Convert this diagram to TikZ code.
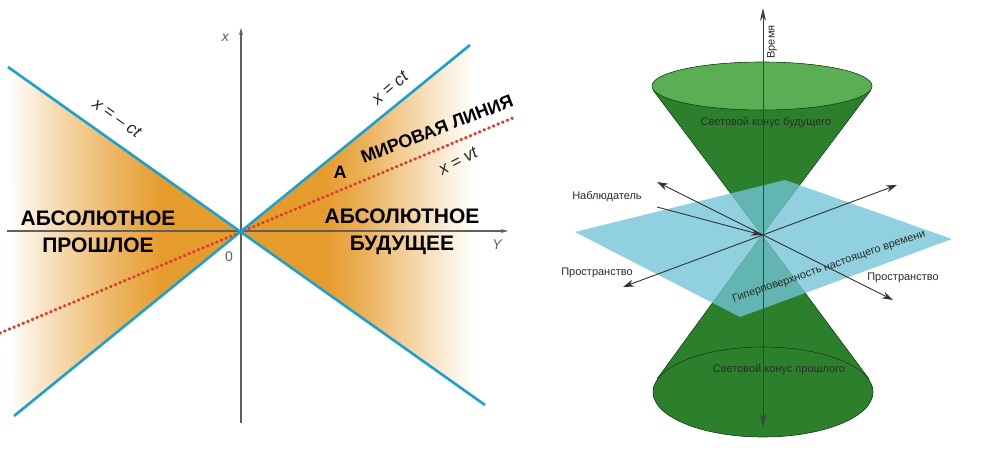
\documentclass[tikz,border=0pt]{standalone}
\usepackage{fontspec}
\setmainfont{Liberation Sans}
\usetikzlibrary{arrows.meta, positioning}
\definecolor{axisgray}{RGB}{95,95,95}
\definecolor{coneblue}{RGB}{28,160,210}
\definecolor{worldred}{RGB}{215,65,45}
\definecolor{orng}{RGB}{230,156,44}
\definecolor{darkgreen}{RGB}{44,128,44}
\definecolor{midgreen}{RGB}{78,165,70}
\definecolor{lightgreen}{RGB}{145,210,135}
\definecolor{rimgreen}{RGB}{25,75,25}
\definecolor{planeblue}{RGB}{115,196,215}
\definecolor{labgray}{RGB}{40,45,40}
\pgfdeclarehorizontalshading{pastfade}{100bp}{color(0bp)=(white); color(25bp)=(white); color(29bp)=(orng!15); color(38bp)=(orng!45); color(50bp)=(orng!80); color(58bp)=(orng); color(100bp)=(orng)}
\pgfdeclarehorizontalshading{futfade}{100bp}{color(0bp)=(orng); color(42bp)=(orng); color(50bp)=(orng!80); color(58bp)=(orng!50); color(68bp)=(orng!15); color(73bp)=(white); color(100bp)=(white)}

\begin{document}
\begin{tikzpicture}[x=1pt,y=-1pt,>={Stealth[length=11pt,width=7pt]},
    axis/.style={draw=axisgray,line width=1.1pt,-{Stealth[length=7pt,width=4pt]}},
    light/.style={draw=coneblue,line width=2.6pt},
    world/.style={draw=worldred,line width=3.4pt,line cap=round,dash pattern=on 0.4pt off 4.6pt},
    region/.style={font=\fontsize{21}{27}\selectfont\bfseries,align=center},
    eqn/.style={font=\fontsize{17}{17}\selectfont\itshape,text=black!85},
    axlab/.style={font=\fontsize{14}{14}\selectfont\itshape,text=axisgray,inner sep=0pt},
    cone/.style={draw=rimgreen,line width=0.6pt},
    space/.style={draw=black!80,line width=0.9pt},
    taxis/.style={draw=black!75,line width=0.8pt,{Stealth[length=13pt,width=6pt]}-{Stealth[length=13pt,width=6pt]}},
    lab/.style={font=\fontsize{11}{11}\selectfont,text=labgray}]

\fill[white] (0,0) rectangle (998,454);
\useasboundingbox (0,0) rectangle (998,454);

\coordinate (O)    at (241,231);
\coordinate (xtop) at (241,28);
\coordinate (xbot) at (241,423);
\coordinate (yl)   at (7,231);
\coordinate (yr)   at (508,231);
\coordinate (pl)   at (8,67);
\coordinate (fr)   at (485,405);
\coordinate (pb)   at (14,416);
\coordinate (ft)   at (470,45);
\coordinate (wl)   at (0,333);
\coordinate (wr)   at (515,117);

\shade[shading=pastfade] (O) -- (pl) -- (pb) -- cycle;
\shade[shading=futfade]  (O) -- (ft) -- (fr) -- cycle;

\draw[axis] (yl)   -- (yr);
\draw[axis] (xbot) -- (xtop);
\draw[world] (wl) -- (wr);
\draw[light] (pl) -- (fr);
\draw[light] (pb) -- (ft);

\node[axlab, below left=6pt and 12pt of xtop] (xlab) {x};
\node[axlab, below left=9pt and 6pt of yr]    (ylab) {Y};
\node[axlab, font=\fontsize{14}{14}\selectfont, below left=21pt and 8pt of O] (zero) {0};

\node[region] (past)   at (98,232)  {АБСОЛЮТНОЕ\\ПРОШЛОЕ};
\node[region] (future) at (402,232) {АБСОЛЮТНОЕ\\БУДУЩЕЕ};
\node[eqn, rotate=-36] (eqpast) at (117,118) {x = – ct};
\node[eqn, rotate=40]  (eqfut)  at (390,88)  {x = ct};
\node[eqn, rotate=28]  (eqv)    at (458,161) {x = vt};
\node[region, font=\fontsize{18}{18}\selectfont\bfseries, rotate=21] (wline) at (437,129) {МИРОВАЯ ЛИНИЯ};
\node[region, font=\fontsize{18}{18}\selectfont\bfseries] (pa) at (340,172) {A};

\coordinate (apex) at (762,235);
\coordinate (ttop) at (763,8);
\coordinate (tbot) at (763,427);
\coordinate (fut)  at (762,86);
\coordinate (pst)  at (763,392);

\fill[left color=darkgreen,middle color=midgreen,right color=darkgreen] (653,90) -- (apex) -- (871,90) -- cycle;
\draw[cone] (653,90) -- (apex) -- (871,90);
\fill[left color=midgreen!80!lightgreen,middle color=lightgreen,right color=midgreen!80!lightgreen] (fut) ellipse[x radius=110,y radius=24];
\draw[cone] (fut) ellipse[x radius=110,y radius=24];

\fill[left color=darkgreen,middle color=midgreen,right color=darkgreen] (657,379) -- (apex) -- (869,379) -- cycle;
\fill[left color=darkgreen,middle color=midgreen!60!lightgreen,right color=darkgreen] (pst) ellipse[x radius=110,y radius=45];
\draw[cone] (657,379) -- (apex) -- (869,379);
\draw[cone] (pst) ellipse[x radius=110,y radius=45];

\coordinate (pll) at (575,232);
\coordinate (plt) at (785,180);
\coordinate (plr) at (952,239);
\coordinate (plb) at (740,317);
\fill[planeblue,opacity=0.78] (pll) -- (plt) -- (plr) -- (plb) -- cycle;

\coordinate (s1a) at (657,182);
\coordinate (s1b) at (893,300);
\coordinate (s2a) at (623,287);
\coordinate (s2b) at (897,185);
\coordinate (obs) at (657,207);

\draw[space,<->] (s1a) -- (s1b);
\draw[space,<->] (s2a) -- (s2b);
\draw[space,->]  (obs) -- (apex);
\draw[taxis] (tbot) -- (ttop);

\node[lab, rotate=90] (time)   at (772,42)  {Время};
\node[lab]            (fcone)  at (766,123) {Световой конус будущего};
\node[lab]            (pcone)  at (779,370) {Световой конус прошлого};
\node[lab]            (obsl)   at (607,197) {Наблюдатель};
\node[lab]            (spl)    at (597,273) {Пространство};
\node[lab]            (spr)    at (903,278) {Пространство};
\node[lab, rotate=19] (hyper)  at (829,267) {Гиперповерхность настоящего времени};
\end{tikzpicture}
\end{document}
